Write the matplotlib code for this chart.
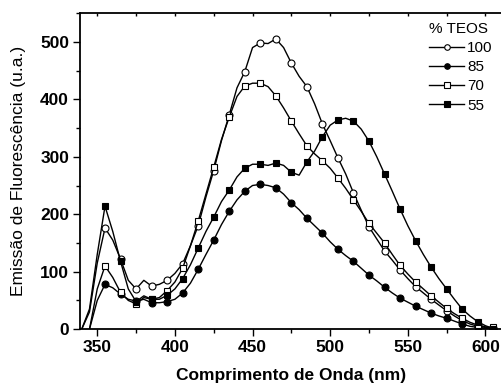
import numpy as np
import matplotlib.pyplot as plt
from matplotlib.ticker import MultipleLocator

plt.rcParams['font.family'] = ['Liberation Sans', 'DejaVu Sans']

# comprimento de onda (nm), passo de 5 nm
wl = list(range(340, 610, 5))

teos_100 = [0, 30, 115, 176, 155, 122, 85, 70, 85, 75, 78, 85, 97, 114, 145, 180,
            230, 276, 328, 373, 420, 448, 490, 498, 497, 505, 490, 463, 440, 422,
            392, 357, 328, 298, 270, 237, 207, 178, 157, 136, 120, 103, 88, 74,
            63, 52, 42, 32, 23, 15, 9, 5, 3, 2]
teos_85 = [np.nan, 0, 50, 78, 72, 61, 52, 49, 52, 46, 46, 48, 52, 63, 80, 104,
           130, 155, 182, 205, 225, 240, 250, 252, 250, 246, 235, 220, 208, 193,
           180, 167, 152, 139, 128, 118, 106, 94, 84, 73, 63, 54, 47, 40,
           34, 28, 23, 19, 14, 9, 5, 3, 1, 0]
teos_70 = [np.nan, 0, 70, 110, 90, 64, 50, 44, 55, 52, 55, 67, 82, 106, 145, 188,
           235, 282, 330, 369, 405, 423, 428, 428, 422, 406, 385, 362, 340, 319,
           305, 293, 280, 263, 245, 225, 205, 184, 167, 150, 130, 111, 96, 82,
           70, 58, 47, 36, 27, 19, 12, 7, 4, 3]
teos_55 = [0, 35, 130, 214, 170, 118, 70, 48, 58, 52, 52, 59, 70, 88, 112, 141,
           170, 195, 222, 242, 265, 280, 287, 287, 285, 289, 285, 273, 268, 291,
           310, 335, 355, 364, 367, 362, 348, 327, 300, 270, 240, 209, 180, 154,
           130, 108, 88, 70, 52, 35, 23, 13, 6, 1]

series = [("100", teos_100, 'o', 'white'),
          ("85", teos_85, 'o', 'black'),
          ("70", teos_70, 's', 'white'),
          ("55", teos_55, 's', 'black')]

fig = plt.figure(figsize=(5.01, 3.85), dpi=100)
ax = fig.add_axes([0.160, 0.145, 0.840, 0.821])

for label, vals, mk, fc in series:
    ax.plot(wl, vals, color='black', linewidth=1.0, marker=mk,
            markerfacecolor=fc, markeredgecolor='black', markersize=5,
            markeredgewidth=0.8, markevery=slice(3, None, 2), label=label)

ax.set_xlim(339, 610)
ax.set_ylim(0, 550)
ax.xaxis.set_major_locator(MultipleLocator(50))
ax.xaxis.set_minor_locator(MultipleLocator(25))
ax.yaxis.set_major_locator(MultipleLocator(100))
ax.yaxis.set_minor_locator(MultipleLocator(50))

ax.spines['right'].set_visible(False)
for s in ['left', 'bottom', 'top']:
    ax.spines[s].set_linewidth(1.3)

ax.tick_params(axis='both', which='major', length=5, width=1.0,
               labelsize=12.5, direction='out', pad=3)
ax.tick_params(axis='both', which='minor', length=3, width=1.0, direction='out')
ax.tick_params(axis='x', which='both', top=True)
# marcas do eixo superior para dentro
for t in ax.xaxis.get_major_ticks() + ax.xaxis.get_minor_ticks():
    t.tick2line.set_marker(3)
    t.tick2line.set_markersize(2.5)
for lbl in ax.get_xticklabels() + ax.get_yticklabels():
    lbl.set_fontweight('bold')

ax.set_xlabel("Comprimento de Onda (nm)", fontsize=12.5, fontweight='bold',
              labelpad=9)
ax.set_ylabel("Emissão de Fluorescência (u.a.)", fontsize=12.5, labelpad=10)

leg = ax.legend(title="% TEOS", loc='upper right', frameon=False,
                fontsize=11, title_fontsize=11, handlelength=2.3,
                handletextpad=0.2, labelspacing=0.33, markerscale=0.8,
                bbox_to_anchor=(0.995, 0.99), borderaxespad=0.0)
leg._legend_box.align = 'left'

fig.savefig("out.png", dpi=100)
